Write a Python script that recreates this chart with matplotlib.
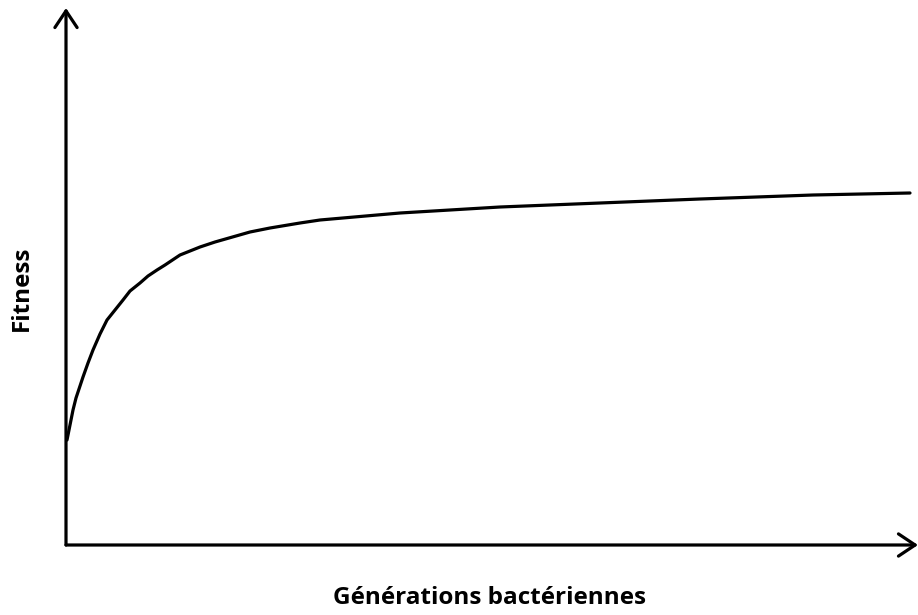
import matplotlib.pyplot as plt

# curve (arbitrary units: generations, fitness)
generations = [1, 7, 10, 17, 22, 27, 34, 41, 49, 57, 64, 74, 82, 91, 99, 114, 124, 134, 149,
               184, 204, 234, 254, 334, 434, 534, 634, 747, 844]
fitness = [105, 135, 147, 168, 182, 195, 211, 225, 235, 245, 254, 262, 269, 275, 280, 290, 294, 298, 303,
           313, 317, 322, 325, 332, 338, 342, 346, 350, 352]

x_label = "Générations bactériennes"
y_label = "Fitness"

fig = plt.figure(figsize=(9.18, 6.15), dpi=100)
ax = fig.add_axes([66 / 918, 70 / 615, 852 / 918, 537 / 615])
ax.plot(generations, fitness, color="black", lw=2.3, solid_capstyle="round", solid_joinstyle="round")
ax.set_xlim(0, 852)
ax.set_ylim(0, 537)
for s in ax.spines.values():
    s.set_visible(False)
ax.set_xticks([])
ax.set_yticks([])

arrow = dict(arrowstyle="->,head_width=0.4,head_length=0.6", lw=2.3, color="black",
             mutation_scale=20, shrinkA=0, shrinkB=0)
ax.annotate("", xy=(1.0, 0), xytext=(0, 0), xycoords="axes fraction", arrowprops=arrow, annotation_clip=False)
ax.annotate("", xy=(0, 1.0), xytext=(0, 0), xycoords="axes fraction", arrowprops=arrow, annotation_clip=False)

fig.text(490 / 918, 1 - 598 / 615, x_label, ha="center", va="center",
         fontsize=17.5, fontweight="bold", family="Open Sans")
fig.text(22 / 918, 1 - 288 / 615, y_label, ha="center", va="center", rotation=90,
         fontsize=17.5, fontweight="bold", family="Open Sans")

fig.savefig("out.png", dpi=100)
